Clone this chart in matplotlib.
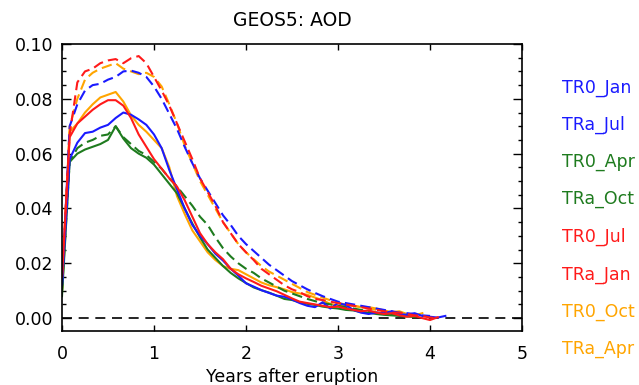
import matplotlib
matplotlib.use("Agg")
import matplotlib.pyplot as plt
import numpy as np

# monthly data, time in years = month / 12
tr0_jan = [0.012, 0.070, 0.078, 0.083, 0.085, 0.0855, 0.087, 0.088, 0.090, 0.0903, 0.0895, 0.088,
           0.0845, 0.080, 0.0745, 0.069, 0.0625, 0.0565, 0.051, 0.0465, 0.042, 0.0375, 0.034, 0.030,
           0.027, 0.0245, 0.022, 0.0195, 0.0175, 0.0155, 0.0135, 0.012, 0.0105, 0.0092, 0.008, 0.007,
           0.006, 0.0055, 0.005, 0.0045, 0.004, 0.0035, 0.003, 0.0025, 0.002, 0.0018, 0.0015, 0.001, 0.0008]
tra_jul = [0.012, 0.058, 0.064, 0.0675, 0.068, 0.0695, 0.0705, 0.073, 0.075, 0.0742, 0.0725, 0.0705,
           0.067, 0.062, 0.054, 0.047, 0.040, 0.034, 0.030, 0.027, 0.0235, 0.021, 0.018, 0.0155,
           0.0127, 0.0115, 0.0102, 0.0092, 0.0082, 0.0078, 0.0068, 0.0055, 0.0045, 0.004, 0.0058, 0.0035,
           0.0055, 0.0048, 0.003, 0.002, 0.0015, 0.002, 0.0018, 0.0025, 0.0015, 0.0012, 0.0018, 0.0008,
           0.0005, 0.0002, 0.0008]
tr0_apr = [0.010, 0.057, 0.062, 0.064, 0.065, 0.0665, 0.067, 0.070, 0.066, 0.0635, 0.061, 0.0595,
           0.057, 0.0545, 0.051, 0.048, 0.0445, 0.041, 0.037, 0.034, 0.0295, 0.0255, 0.0225, 0.020,
           0.018, 0.0165, 0.0145, 0.013, 0.0115, 0.010, 0.009, 0.008, 0.007, 0.0062, 0.0055, 0.005,
           0.0045, 0.004, 0.0035, 0.003, 0.0025, 0.002, 0.0018, 0.0015, 0.001, 0.001, 0.0008]
tra_oct = [0.008, 0.057, 0.060, 0.0615, 0.0625, 0.0635, 0.065, 0.070, 0.0655, 0.062, 0.060, 0.0585,
           0.056, 0.0525, 0.049, 0.0455, 0.040, 0.0345, 0.0295, 0.025, 0.022, 0.019, 0.0165, 0.0145,
           0.0128, 0.0112, 0.0102, 0.0093, 0.0082, 0.007, 0.0066, 0.0058, 0.0052, 0.0048, 0.0042, 0.0038,
           0.0035, 0.003, 0.0028, 0.0022, 0.002, 0.0015, 0.0012, 0.001, 0.0008, 0.0006, 0.0004]
tr0_jul = [0.015, 0.067, 0.086, 0.090, 0.091, 0.093, 0.094, 0.0945, 0.093, 0.0948, 0.0956, 0.093,
           0.088, 0.083, 0.0775, 0.071, 0.0645, 0.058, 0.051, 0.046, 0.041, 0.035, 0.031, 0.027,
           0.024, 0.0212, 0.018, 0.016, 0.014, 0.012, 0.0105, 0.0095, 0.008, 0.007, 0.0066, 0.006,
           0.0055, 0.005, 0.0045, 0.004, 0.0035, 0.003, 0.0025, 0.002, 0.002, 0.0015, 0.001, 0.0008,
           0.0002, 0.000]
tra_jan = [0.015, 0.066, 0.071, 0.0735, 0.076, 0.078, 0.0795, 0.0795, 0.0775, 0.073, 0.067, 0.0625,
           0.058, 0.0545, 0.051, 0.048, 0.043, 0.037, 0.031, 0.027, 0.024, 0.0215, 0.018, 0.016,
           0.0145, 0.0132, 0.0118, 0.0108, 0.0098, 0.0085, 0.0072, 0.006, 0.0055, 0.005, 0.0045, 0.004,
           0.0042, 0.0035, 0.003, 0.0025, 0.0028, 0.002, 0.0015, 0.0018, 0.001, 0.0005, 0.0008, 0.0,
           -0.0007, 0.0003]
tr0_oct = [0.010, 0.070, 0.080, 0.087, 0.0895, 0.091, 0.092, 0.093, 0.091, 0.090, 0.089, 0.0895,
           0.088, 0.0845, 0.078, 0.071, 0.063, 0.0565, 0.050, 0.045, 0.040, 0.035, 0.031, 0.027,
           0.024, 0.0215, 0.019, 0.017, 0.0155, 0.014, 0.0125, 0.011, 0.0095, 0.0085, 0.0075, 0.0065,
           0.0055, 0.005, 0.0045, 0.004, 0.0035, 0.003, 0.0025, 0.002, 0.0015, 0.001, 0.0008]
tra_apr = [0.010, 0.068, 0.071, 0.075, 0.078, 0.0805, 0.0815, 0.0825, 0.079, 0.074, 0.0705, 0.068,
           0.065, 0.062, 0.055, 0.0445, 0.038, 0.032, 0.028, 0.024, 0.0212, 0.019, 0.018, 0.0175,
           0.016, 0.0145, 0.013, 0.012, 0.0113, 0.0105, 0.0095, 0.009, 0.0085, 0.0075, 0.0065, 0.0052,
           0.0045, 0.0048, 0.0045, 0.004, 0.004, 0.0035, 0.0028, 0.0022, 0.0025, 0.0015, 0.001, 0.0018]

names = ["TR0_Jan", "TRa_Jul", "TR0_Apr", "TRa_Oct", "TR0_Jul", "TRa_Jan", "TR0_Oct", "TRa_Apr"]
series = [tr0_jan, tra_jul, tr0_apr, tra_oct, tr0_jul, tra_jan, tr0_oct, tra_apr]
colors = ["#1a1aff", "#1a1aff", "#1e7b1e", "#1e7b1e", "#ff1a1a", "#ff1a1a", "#ffa500", "#ffa500"]
dashed = [True, False, True, False, True, False, True, False]

plt.rcParams['font.family'] = ['DejaVu Sans']
fig = plt.figure(figsize=(6.39, 3.85), dpi=100)
ax = fig.add_axes([62/639, 1-331/385, (522-62)/639, (331-44)/385])

ax.plot([0, 5], [0, 0], color='black', lw=1.2, dashes=(6, 4))
order = [6, 7, 2, 3, 0, 1, 4, 5]
for i in order:
    y = np.array(series[i])
    t = np.arange(len(y)) / 12.0
    kw = dict(color=colors[i], lw=1.5)
    if dashed[i]:
        ax.plot(t, y, dashes=(5, 2.5), **kw)
    else:
        ax.plot(t, y, **kw)

ax.set_xlim(0, 5)
ax.set_ylim(-0.0047, 0.10)
ax.set_xticks([0, 1, 2, 3, 4, 5])
ax.set_yticks([0.0, 0.02, 0.04, 0.06, 0.08, 0.10])
ax.set_yticklabels(["0.00", "0.02", "0.04", "0.06", "0.08", "0.10"])
ax.set_yticks(np.arange(0, 0.1001, 0.005), minor=True)
ax.tick_params(axis='y', which='major', direction='in', length=6.5, width=1, left=True, right=True,
               labelsize=12.5, pad=6)
ax.tick_params(axis='y', which='minor', direction='in', length=3.2, width=1, left=True, right=True)
ax.tick_params(axis='x', which='major', direction='in', length=4, width=1, top=True, bottom=True,
               labelsize=12.5, pad=10)
for s in ax.spines.values():
    s.set_linewidth(1.2)

fig.text(292/639, 1-21/385, "GEOS5: AOD", ha='center', va='center', fontsize=13.5)
fig.text(292/639, 1-377/385, "Years after eruption", ha='center', va='center', fontsize=12.5)

ys = [88, 124.5, 162, 199, 237, 274.5, 312, 349]
for name, c, yy in zip(names, colors, ys):
    fig.text(562/639, 1-yy/385, name, color=c, ha='left', va='center', fontsize=12.5)

fig.savefig("out.png", dpi=100)
